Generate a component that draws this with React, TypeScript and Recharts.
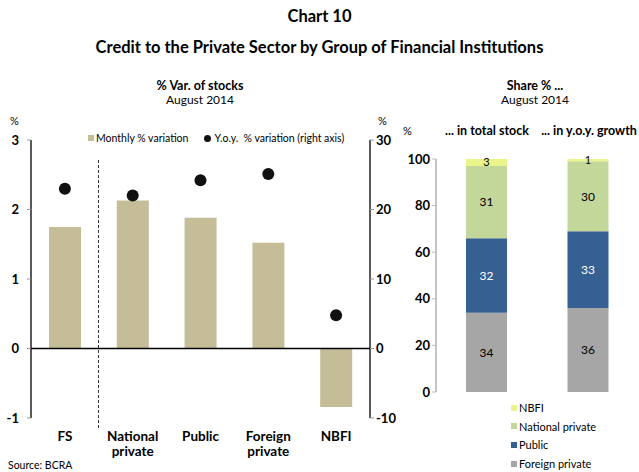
import React from "react";
import {
  ComposedChart,
  BarChart,
  Bar,
  Line,
  XAxis,
  YAxis,
  ReferenceLine,
  LabelList,
} from "recharts";

const groups = ["FS", "National private", "Public", "Foreign private", "NBFI"];
const monthlyVar = [1.75, 2.13, 1.88, 1.52, -0.84];
const yoyVar = [23.0, 22.0, 24.2, 25.1, 4.8];

const shareCats = ["... in total stock", "... in y.o.y. growth"];
const foreignShare = [34, 36];
const publicShare = [32, 33];
const nationalShare = [31, 30];
const nbfiShare = [3, 1];

const leftTicks = [-1, 0, 1, 2, 3];
const rightTicks = [-10, 0, 10, 20, 30];
const shareTicks = [0, 20, 40, 60, 80, 100];

const font = "Lato, 'Open Sans', sans-serif";
const barColor = "#c4bd97";
const shareColors = {
  nbfi: "#ebf38b",
  national: "#c4d79b",
  public: "#376092",
  foreign: "#a6a6a6",
};

const leftData = groups.map((g, i) => ({ name: g, monthly: monthlyVar[i], yoy: yoyVar[i] }));
const shareData = shareCats.map((c, i) => ({
  name: c,
  foreign: foreignShare[i],
  public: publicShare[i],
  national: nationalShare[i],
  nbfi: nbfiShare[i],
}));

const XTick = (props: any) => {
  const { x, y, payload } = props;
  const lines = String(payload.value).split(" ");
  return (
    <text x={x} y={y + 23} textAnchor="middle" fontWeight={700} fontSize={13.5} fill="#000" fontFamily={font}>
      {lines.map((l, i) => (
        <tspan key={i} x={x} dy={i === 0 ? 0 : 15}>
          {l}
        </tspan>
      ))}
    </text>
  );
};

const tickStyle = { fontSize: 13, fontWeight: 700, fill: "#000", fontFamily: font };

const abs = (left: number, top: number, extra: React.CSSProperties = {}): React.CSSProperties => ({
  position: "absolute",
  left,
  top,
  fontFamily: font,
  color: "#000",
  whiteSpace: "nowrap",
  ...extra,
});

export default function App() {
  return (
    <div style={{ position: "absolute", left: 0, top: 0, width: 639, height: 472, background: "#fff", overflow: "hidden" }}>
      <div style={abs(0, 6, { width: 639, textAlign: "center", fontSize: 16.5, fontWeight: 700 })}>Chart 10</div>
      <div style={abs(0, 37, { width: 639, textAlign: "center", fontSize: 16.5, fontWeight: 700 })}>
        Credit to the Private Sector by Group of Financial Institutions
      </div>

      {/* left panel */}
      <div style={abs(0, 78, { width: 400, textAlign: "center", fontSize: 12.5, fontWeight: 700 })}>% Var. of stocks</div>
      <div style={abs(0, 92, { width: 400, textAlign: "center", fontSize: 12 })}>August 2014</div>
      <div style={abs(10, 114, { fontSize: 11 })}>%</div>
      <div style={abs(378, 114, { fontSize: 11 })}>%</div>

      <ComposedChart
        width={400}
        height={472}
        data={leftData}
        margin={{ top: 140, right: 0, bottom: 0, left: 0 }}
        style={{ position: "absolute", left: 0, top: 0 }}
      >
        <XAxis dataKey="name" axisLine={false} tickLine={false} tickSize={0} tickMargin={0} height={54} tick={<XTick />} interval={0} />
        <YAxis
          yAxisId="left"
          domain={[-1, 3]}
          ticks={leftTicks}
          width={31}
          axisLine={{ stroke: "#000", strokeWidth: 1.3 }}
          tickLine={{ stroke: "#999" }}
          tickSize={4}
          tickMargin={8}
          tick={tickStyle}
          tickFormatter={(v) => String(v)}
        />
        <YAxis
          yAxisId="right"
          orientation="right"
          domain={[-10, 30]}
          ticks={rightTicks}
          width={30}
          axisLine={{ stroke: "#000", strokeWidth: 1.3 }}
          tickLine={{ stroke: "#999" }}
          tickSize={4}
          tick={tickStyle}
        />
        <Bar yAxisId="left" dataKey="monthly" fill={barColor} barSize={32} isAnimationActive={false} />
        <ReferenceLine yAxisId="left" y={0} stroke="#000" strokeWidth={1.3} />
        <Line
          yAxisId="right"
          dataKey="yoy"
          stroke="none"
          dot={{ r: 6, fill: "#111", stroke: "none" }}
          activeDot={false}
          isAnimationActive={false}
        />
      </ComposedChart>

      <div style={{ position: "absolute", left: 98, top: 160, height: 268, borderLeft: "1px dashed #333" }} />

      <div style={abs(88, 132, { fontSize: 10.5, display: "flex", alignItems: "center" })}>
        <span style={{ width: 6, height: 6, background: barColor, display: "inline-block", marginRight: 2 }} />
        Monthly % variation
        <span style={{ width: 7, height: 7, borderRadius: 4, background: "#111", display: "inline-block", marginLeft: 16, marginRight: 3 }} />
        Y.o.y.&nbsp; % variation (right axis)
      </div>

      {/* right panel */}
      <div style={abs(420, 78, { width: 230, textAlign: "center", fontSize: 12.5, fontWeight: 700 })}>Share % ...</div>
      <div style={abs(420, 92, { width: 230, textAlign: "center", fontSize: 12 })}>August 2014</div>
      <div style={abs(403, 124, { fontSize: 11 })}>%</div>

      <BarChart
        width={249}
        height={472}
        data={shareData}
        margin={{ top: 159, right: 0, bottom: 80, left: 0 }}
        style={{ position: "absolute", left: 390, top: 0 }}
      >
        <XAxis dataKey="name" height={0} axisLine={{ stroke: "#888" }} tickLine={false} tick={false} />
        <YAxis
          domain={[0, 100]}
          ticks={shareTicks}
          width={46}
          axisLine={{ stroke: "#888" }}
          tickLine={{ stroke: "#bbb" }}
          tickSize={4}
          tick={tickStyle}
        />
        <Bar dataKey="foreign" stackId="s" fill={shareColors.foreign} barSize={41} isAnimationActive={false}>
          <LabelList dataKey="foreign" position="center" fill="#000" fontSize={12} fontFamily={font} />
        </Bar>
        <Bar dataKey="public" stackId="s" fill={shareColors.public} barSize={41} isAnimationActive={false}>
          <LabelList dataKey="public" position="center" fill="#fff" fontSize={12} fontFamily={font} />
        </Bar>
        <Bar dataKey="national" stackId="s" fill={shareColors.national} barSize={41} isAnimationActive={false}>
          <LabelList dataKey="national" position="center" fill="#000" fontSize={12} fontFamily={font} />
        </Bar>
        <Bar dataKey="nbfi" stackId="s" fill={shareColors.nbfi} barSize={41} isAnimationActive={false}>
          <LabelList dataKey="nbfi" position="center" fill="#000" fontSize={11} fontFamily={font} />
        </Bar>
      </BarChart>

      <div style={abs(436, 123, { width: 102, textAlign: "center", fontSize: 12.5, fontWeight: 700 })}>{shareCats[0]}</div>
      <div style={abs(538, 123, { width: 102, textAlign: "center", fontSize: 12.5, fontWeight: 700 })}>{shareCats[1]}</div>

      {[
        ["NBFI", shareColors.nbfi],
        ["National private", shareColors.national],
        ["Public", shareColors.public],
        ["Foreign private", shareColors.foreign],
      ].map(([label, color], i) => (
        <div key={label} style={abs(511, 401 + i * 18.7, { fontSize: 11, display: "flex", alignItems: "center" })}>
          <span style={{ width: 6, height: 6, background: color, display: "inline-block", marginRight: 2 }} />
          {label}
        </div>
      ))}

      <div style={abs(8, 459, { fontSize: 10.5 })}>Source: BCRA</div>
    </div>
  );
}
